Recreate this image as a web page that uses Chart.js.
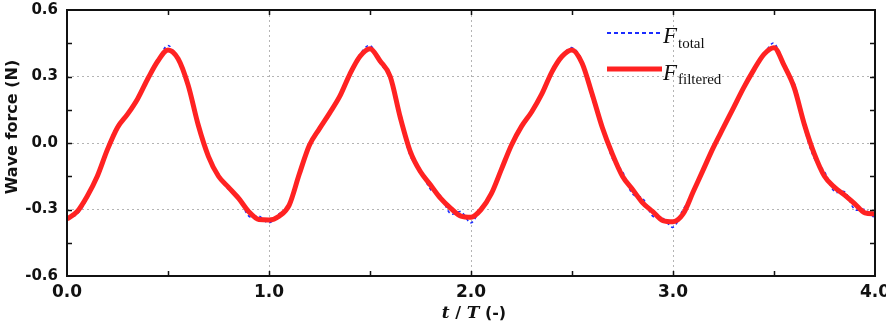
<!DOCTYPE html>
<html>
<head>
<meta charset="utf-8">
<script src="https://cdn.jsdelivr.net/npm/chart.js@4.4.1/dist/chart.umd.min.js"></script>
<style>
  html, body { margin: 0; padding: 0; background: #fff; }
  #wrap { width: 886px; height: 326px; }
</style>
</head>
<body>
<div id="wrap"><canvas id="waveChart" width="886" height="326"></canvas></div>
<script>
// time in wave periods (t/T)
const tValues = [
  0.00, 0.05, 0.10, 0.15, 0.20, 0.25, 0.30, 0.35, 0.40, 0.45,
  0.50, 0.55, 0.60, 0.65, 0.70, 0.75, 0.80, 0.85, 0.90, 0.95,
  1.00, 1.05, 1.10, 1.15, 1.20, 1.25, 1.30, 1.35, 1.40, 1.45,
  1.50, 1.55, 1.60, 1.65, 1.70, 1.75, 1.80, 1.85, 1.90, 1.95,
  2.00, 2.05, 2.10, 2.15, 2.20, 2.25, 2.30, 2.35, 2.40, 2.45,
  2.50, 2.55, 2.60, 2.65, 2.70, 2.75, 2.80, 2.85, 2.90, 2.95,
  3.00, 3.05, 3.10, 3.15, 3.20, 3.25, 3.30, 3.35, 3.40, 3.45,
  3.50, 3.55, 3.60, 3.65, 3.70, 3.75, 3.80, 3.85, 3.90, 3.95,
  4.00
];

// raw measured force (N)
const fTotal = [
  -0.34, -0.32, -0.25, -0.15, -0.02, 0.08, 0.13, 0.20, 0.29, 0.37,
  0.44, 0.37, 0.26, 0.08, -0.07, -0.14, -0.21, -0.24, -0.33, -0.33,
  -0.36, -0.32, -0.29, -0.14, -0.01, 0.065, 0.135, 0.21, 0.31, 0.40,
  0.44, 0.36, 0.30, 0.12, -0.06, -0.12, -0.21, -0.24, -0.32, -0.31,
  -0.36, -0.29, -0.24, -0.12, 0.00, 0.07, 0.14, 0.22, 0.32, 0.39,
  0.43, 0.37, 0.20, 0.08, -0.07, -0.13, -0.23, -0.25, -0.33, -0.34,
  -0.38, -0.30, -0.23, -0.11, -0.02, 0.07, 0.16, 0.25, 0.33, 0.40,
  0.45, 0.34, 0.27, 0.07, -0.07, -0.13, -0.22, -0.22, -0.30, -0.30,
  -0.34
];

// filtered force (N)
const fFiltered = [
  -0.343, -0.31, -0.24, -0.15, -0.03, 0.07, 0.13, 0.20, 0.29, 0.37,
  0.42, 0.38, 0.26, 0.08, -0.06, -0.15, -0.20, -0.25, -0.31, -0.345,
  -0.347, -0.33, -0.28, -0.14, -0.01, 0.065, 0.135, 0.21, 0.31, 0.39,
  0.425, 0.37, 0.30, 0.115, -0.04, -0.13, -0.19, -0.25, -0.295, -0.33,
  -0.335, -0.30, -0.23, -0.12, -0.01, 0.075, 0.14, 0.22, 0.32, 0.39,
  0.42, 0.36, 0.22, 0.07, -0.05, -0.15, -0.21, -0.27, -0.31, -0.35,
  -0.355, -0.32, -0.22, -0.12, -0.02, 0.07, 0.16, 0.25, 0.33, 0.40,
  0.43, 0.35, 0.25, 0.085, -0.05, -0.15, -0.20, -0.235, -0.275, -0.315,
  -0.32
];

const xMinorTicks = [0.5, 1.0, 1.5, 2.0, 2.5, 3.0, 3.5];
const yMinorTicks = [-0.45, -0.3, -0.15, 0.0, 0.15, 0.3, 0.45];

const tickFont = 'DejaVu Sans';

function toPoints(ys) {
  return tValues.map((t, i) => ({ x: t, y: ys[i] }));
}

// frame, inward ticks, legend and axis titles
const decorPlugin = {
  id: 'decor',
  afterDraw(chart) {
    const ctx = chart.ctx;
    const area = chart.chartArea;
    const xs = chart.scales.x;
    const ys = chart.scales.y;
    ctx.save();

    ctx.strokeStyle = '#111';
    ctx.lineWidth = 1.5;
    ctx.setLineDash([]);
    ctx.beginPath();
    xMinorTicks.forEach(v => {
      const px = Math.round(xs.getPixelForValue(v)) + 0.5;
      ctx.moveTo(px, area.bottom);
      ctx.lineTo(px, area.bottom - 5);
      ctx.moveTo(px, area.top);
      ctx.lineTo(px, area.top + 5);
    });
    yMinorTicks.forEach(v => {
      const py = Math.round(ys.getPixelForValue(v)) + 0.5;
      ctx.moveTo(area.left, py);
      ctx.lineTo(area.left + 5, py);
      ctx.moveTo(area.right, py);
      ctx.lineTo(area.right - 5, py);
    });
    ctx.stroke();

    ctx.lineWidth = 2;
    ctx.strokeRect(area.left, area.top, area.right - area.left, area.bottom - area.top);

    // legend
    ctx.strokeStyle = '#1a2cff';
    ctx.lineWidth = 2;
    ctx.setLineDash([4, 3]);
    ctx.beginPath();
    ctx.moveTo(607, 33);
    ctx.lineTo(662, 33);
    ctx.stroke();
    ctx.strokeStyle = '#ff2222';
    ctx.lineWidth = 5;
    ctx.setLineDash([]);
    ctx.beginPath();
    ctx.moveTo(607, 69);
    ctx.lineTo(662, 69);
    ctx.stroke();

    ctx.fillStyle = '#111';
    ctx.textAlign = 'left';
    ctx.textBaseline = 'alphabetic';
    ctx.font = 'italic 23px "Liberation Serif"';
    ctx.fillText('F', 663, 43);
    ctx.fillText('F', 663, 80);
    ctx.font = '15px "Liberation Serif"';
    ctx.fillText('total', 678, 48);
    ctx.fillText('filtered', 678, 84);

    // y axis title
    ctx.save();
    ctx.translate(13, 127);
    ctx.rotate(-Math.PI / 2);
    ctx.textAlign = 'center';
    ctx.textBaseline = 'middle';
    ctx.font = 'bold 16px ' + tickFont;
    ctx.fillText('Wave force (N)', 0, 0);
    ctx.restore();

    // x axis title with italic symbols
    const parts = [
      { text: 't', font: 'bold italic 17px "DejaVu Serif"' },
      { text: ' / ', font: 'bold 16px ' + tickFont },
      { text: 'T', font: 'bold italic 17px "DejaVu Serif"' },
      { text: ' (-)', font: 'bold 16px ' + tickFont }
    ];
    let total = 0;
    parts.forEach(p => { ctx.font = p.font; p.w = ctx.measureText(p.text).width; total += p.w; });
    let x = 474 - total / 2;
    parts.forEach(p => {
      ctx.font = p.font;
      ctx.fillText(p.text, x, 318);
      x += p.w;
    });

    ctx.restore();
  }
};

new Chart(document.getElementById('waveChart'), {
  type: 'line',
  data: {
    datasets: [
      {
        label: 'F total',
        data: toPoints(fTotal),
        borderColor: '#1a2cff',
        borderWidth: 1.6,
        borderDash: [3, 3],
        pointRadius: 0,
        tension: 0.35,
        order: 2
      },
      {
        label: 'F filtered',
        data: toPoints(fFiltered),
        borderColor: '#ff2222',
        borderWidth: 5,
        pointRadius: 0,
        cubicInterpolationMode: 'monotone',
        order: 1
      }
    ]
  },
  options: {
    responsive: false,
    animation: false,
    layout: { padding: { top: 10, right: 11, left: 0, bottom: 0 } },
    plugins: {
      legend: { display: false },
      tooltip: { enabled: false }
    },
    scales: {
      x: {
        type: 'linear',
        min: 0,
        max: 4,
        ticks: {
          stepSize: 1,
          maxRotation: 0,
          padding: 6,
          color: '#111',
          font: { family: tickFont, size: 17, weight: 'bold' },
          callback: v => v.toFixed(1)
        },
        grid: { color: '#b4b4b4', lineWidth: 1, drawTicks: false },
        border: { display: false, dash: [2, 3] },
        afterFit(scale) {
          scale.height = 50;
          scale.paddingLeft = 0;
          scale.paddingRight = 0;
        }
      },
      y: {
        min: -0.6,
        max: 0.6,
        ticks: {
          stepSize: 0.3,
          padding: 9,
          color: '#111',
          font: { family: tickFont, size: 15, weight: 'bold' },
          callback: v => (Math.abs(v) < 1e-9 ? 0 : v).toFixed(1)
        },
        grid: { color: '#b4b4b4', lineWidth: 1, drawTicks: false },
        border: { display: false, dash: [2, 3] },
        afterFit(scale) {
          scale.width = 67;
          scale.paddingTop = 0;
          scale.paddingBottom = 0;
        }
      }
    }
  },
  plugins: [decorPlugin]
});
</script>
</body>
</html>
